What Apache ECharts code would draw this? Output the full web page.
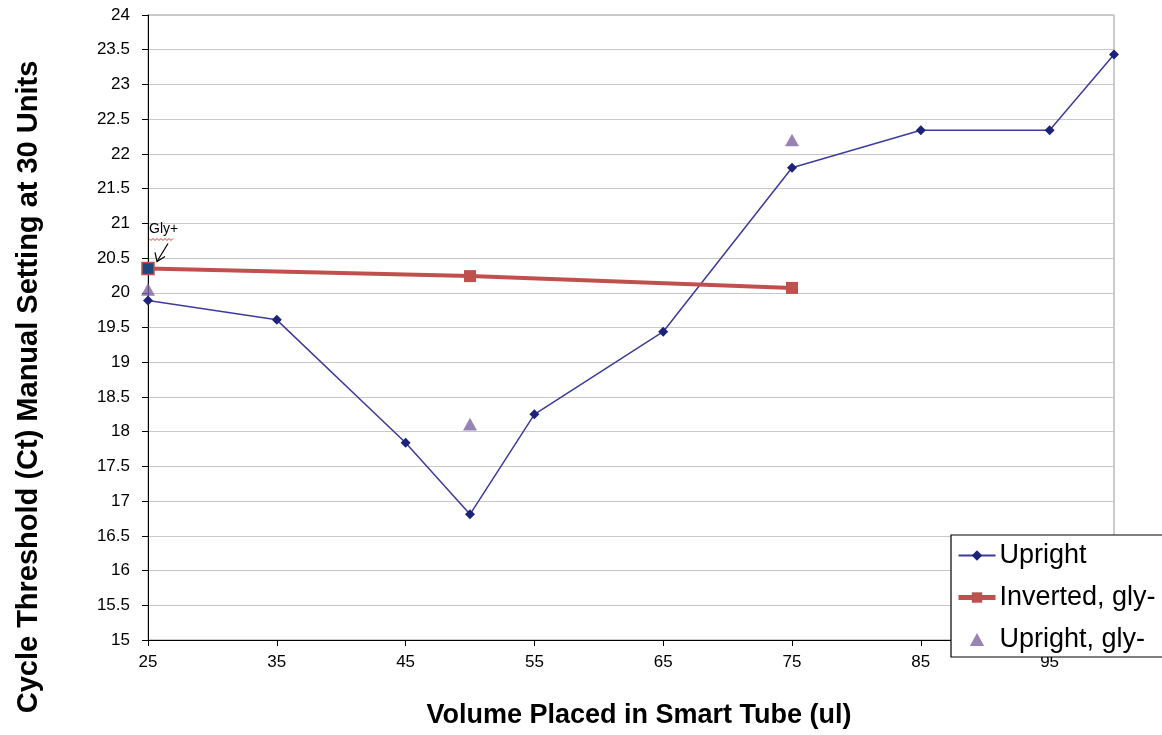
<!DOCTYPE html>
<html>
<head>
<meta charset="utf-8">
<script src="https://cdn.jsdelivr.net/npm/echarts@6/dist/echarts.min.js"></script>
<style>
html,body{margin:0;padding:0;background:#fff;}
#chart{width:1162px;height:735px;}
</style>
</head>
<body>
<div id="chart"></div>
<script>
// ---- data ----
var uprightX = [25, 35, 45, 50, 55, 65, 75, 85, 95, 100];
var uprightY = [19.89, 19.61, 17.84, 16.81, 18.25, 19.44, 21.80, 22.34, 22.34, 23.43];
var invertedX = [25, 50, 75];
var invertedY = [20.35, 20.24, 20.07];
var uprightGlyX = [25, 50, 75];
var uprightGlyY = [20.05, 18.11, 22.20];
var xTickLabels = [25, 35, 45, 55, 65, 75, 85, 95];
var seriesNames = ['Upright', 'Inverted, gly-', 'Upright, gly-'];
var xTitle = 'Volume Placed in Smart Tube (ul)';
var yTitle = 'Cycle Threshold (Ct) Manual Setting at 30 Units';
var noteText = 'Gly+';

function pairs(xs, ys) { return xs.map(function (x, i) { return [x, ys[i]]; }); }

var chart = echarts.init(document.getElementById('chart'), null, {renderer: 'canvas'});
var FONT = '"Liberation Sans", Arial, sans-serif';
var TRI = 'path://M0,-1L1.1,1L-1.1,1Z';

var invData = pairs(invertedX, invertedY).map(function (p, i) {
  if (i === 0) {
    return {value: p, itemStyle: {color: '#1F497D', borderColor: '#C0504D', borderWidth: 1.5}};
  }
  return p;
});

var option = {
  backgroundColor: '#fff',
  animation: false,
  textStyle: {fontFamily: FONT},
  grid: {left: 148, right: 48, top: 15, bottom: 95, show: true, borderColor: '#999', borderWidth: 1},
  xAxis: {
    type: 'value', min: 25, max: 100,
    axisLine: {show: true, lineStyle: {color: '#000', width: 1}},
    axisTick: {show: true, length: 6, lineStyle: {color: '#000'}, customValues: xTickLabels},
    axisLabel: {color: '#000', fontSize: 17, fontFamily: FONT, margin: 14, customValues: xTickLabels},
    splitLine: {show: false}
  },
  yAxis: {
    type: 'value', min: 15, max: 24, interval: 0.5,
    axisLine: {show: true, lineStyle: {color: '#000', width: 1}},
    axisTick: {show: true, length: 6, lineStyle: {color: '#000'}},
    axisLabel: {color: '#000', fontSize: 17, fontFamily: FONT, margin: 18},
    splitLine: {show: true, lineStyle: {color: '#c8c8c8', width: 1}}
  },
  legend: {
    orient: 'vertical', left: 951, top: 535,
    backgroundColor: '#fff', borderColor: '#000', borderWidth: 1.2, borderRadius: 0,
    padding: [7, 80, 4, 5], itemGap: 15, itemWidth: 37, itemHeight: 13,
    textStyle: {fontSize: 27, color: '#000', fontFamily: FONT, padding: [0, 0, 0, -1]},
    data: [
      {name: seriesNames[0]},
      {name: seriesNames[1], lineStyle: {width: 5}},
      {name: seriesNames[2], icon: TRI}
    ]
  },
  series: [
    {
      name: seriesNames[0], type: 'line', data: pairs(uprightX, uprightY),
      symbol: 'diamond', symbolSize: 10,
      lineStyle: {color: '#3C3C9C', width: 1.5},
      itemStyle: {color: '#1E237A'}, z: 3
    },
    {
      name: seriesNames[1], type: 'line', data: invData,
      symbol: 'rect', symbolSize: 12,
      lineStyle: {color: '#C0504D', width: 4},
      itemStyle: {color: '#C0504D'}, z: 4
    },
    {
      name: seriesNames[2], type: 'scatter', data: pairs(uprightGlyX, uprightGlyY),
      symbol: TRI, symbolSize: 14, symbolKeepAspect: true,
      itemStyle: {color: '#8064A2'}, z: 2
    }
  ]
};
chart.setOption(option);

// annotations & titles (positioned from the chart's own coordinate conversion)
var anchor = chart.convertToPixel({gridIndex: 0}, [invertedX[0], invertedY[0]]);
var ax = anchor[0], ay = anchor[1];
var wave = [];
for (var i = 0; i <= 12; i++) { wave.push([ax + 1 + i * 2, ay - 30 + (i % 2 === 0 ? 0 : 2)]); }
chart.setOption({
  graphic: [
    {type: 'text', x: 29, y: 387, rotation: Math.PI / 2, silent: true,
     style: {text: yTitle, font: 'bold 29px ' + FONT, fill: '#000', align: 'center', verticalAlign: 'middle'}},
    {type: 'text', x: 639, y: 716, silent: true,
     style: {text: xTitle, font: 'bold 27px ' + FONT, fill: '#000', align: 'center', verticalAlign: 'middle'}},
    {type: 'text', x: ax + 1, y: ay - 39, silent: true,
     style: {text: noteText, font: '14px ' + FONT, fill: '#000', align: 'left', verticalAlign: 'middle'}},
    {type: 'polyline', silent: true, shape: {points: wave},
     style: {stroke: '#e03030', lineWidth: 1, fill: null}},
    {type: 'line', silent: true, shape: {x1: ax + 20, y1: ay - 25, x2: ax + 9, y2: ay - 7},
     style: {stroke: '#000', lineWidth: 1.2}},
    {type: 'polyline', silent: true, shape: {points: [[ax + 7, ay - 16], [ax + 9, ay - 7], [ax + 17, ay - 12]]},
     style: {stroke: '#000', lineWidth: 1.2, fill: null}}
  ]
});
</script>
</body>
</html>
